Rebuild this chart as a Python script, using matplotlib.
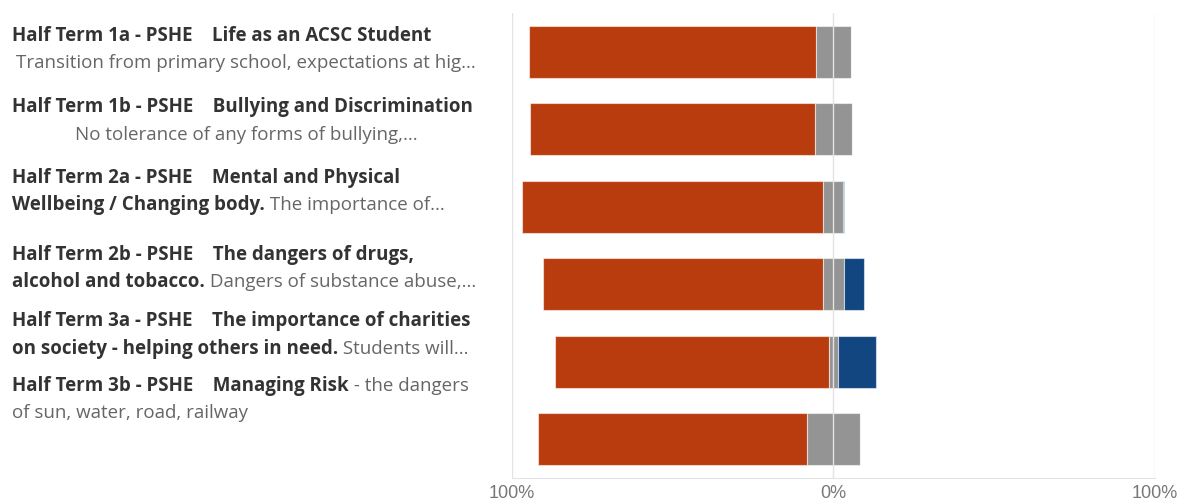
import matplotlib
matplotlib.use("Agg")
import matplotlib.pyplot as plt
from matplotlib.text import Annotation
import numpy as np

# topics, top to bottom
topics = ["Half Term 1a", "Half Term 1b", "Half Term 2a",
          "Half Term 2b", "Half Term 3a", "Half Term 3b"]
# share of responses (%): disagree / neutral / agree
disagree = [89.3, 88.6, 93.6, 87.0, 85.2, 83.4]
neutral = [10.7, 11.5, 6.2, 6.7, 2.8, 16.6]
agree = [0.0, 0.0, 0.3, 6.3, 12.0, 0.0]

# label lines: list of (text, bold) runs per line
label_lines = [
    [[("Half Term 1a - PSHE    Life as an ACSC Student", True)],
     [("Transition from primary school, expectations at hig...", False)]],
    [[("Half Term 1b - PSHE    Bullying and Discrimination", True)],
     [("No tolerance of any forms of bullying,...", False)]],
    [[("Half Term 2a - PSHE    Mental and Physical", True)],
     [("Wellbeing / Changing body.", True), (" The importance of...", False)]],
    [[("Half Term 2b - PSHE    The dangers of drugs,", True)],
     [("alcohol and tobacco.", True), (" Dangers of substance abuse,...", False)]],
    [[("Half Term 3a - PSHE    The importance of charities", True)],
     [("on society - helping others in need.", True), (" Students will...", False)]],
    [[("Half Term 3b - PSHE    Managing Risk", True), (" - the dangers", False)],
     [("of sun, water, road, railway", False)]],
]
line_y_px = [(36, 63), (107, 135), (178, 205), (255, 282), (321, 349), (386, 413)]

W, H = 1179, 501
fig = plt.figure(figsize=(W / 100, H / 100), dpi=100)
ax = fig.add_axes([511.6 / W, 1 - 478 / H, (1155 - 511.6) / W, (478 - 13) / H])

c_dis, c_neu, c_agr = "#B83C0E", "#949494", "#124680"
y = np.arange(len(topics))
dis = np.array(disagree)
neu = np.array(neutral)
agr = np.array(agree)
start = -(dis + neu / 2)
kw = dict(height=0.67, edgecolor=(1, 1, 1, 0.55), linewidth=0.8, zorder=2)
ax.barh(y, dis, left=start, color=c_dis, **kw)
ax.barh(y, neu, left=start + dis, color=c_neu, **kw)
ax.barh(y, agr, left=neu / 2, color=c_agr, **kw)

ax.set_xlim(-100, 100)
ax.set_ylim(len(topics) - 0.5, -0.5)
for xv in (-100, 0, 100):
    ax.axvline(xv, color="#E3E3E3", lw=1, zorder=3)
ax.set_xticks([-100, 0, 100])
ax.set_xticklabels(["100%", "0%", "100%"], fontfamily="Liberation Sans",
                   fontsize=13, color="#777777")
ax.tick_params(axis="x", length=0, pad=5)
ax.set_yticks([])
for s in ("top", "left", "right"):
    ax.spines[s].set_visible(False)
ax.spines["bottom"].set_color("#E3E3E3")

fam = ["Open Sans", "DejaVu Sans"]
fs = 13.5


def draw_line(runs, x_px, y_px, center):
    last = None
    for txt, bold in runs:
        style = dict(fontsize=fs, family=fam,
                     fontweight="bold" if bold else "normal",
                     color="#333333" if bold else "#666666", va="center")
        if last is None:
            last = fig.text(x_px / W, 1 - y_px / H, txt,
                            ha="center" if center else "left", **style)
        else:
            last = fig.add_artist(Annotation(txt, xy=(1, 0.5), xycoords=last,
                                             ha="left", **style))


for i, lines in enumerate(label_lines):
    for j, runs in enumerate(lines):
        c = i < 2 and j == 1
        draw_line(runs, 246 if c else 12, line_y_px[i][j], c)

fig.savefig("out.png", dpi=100)
